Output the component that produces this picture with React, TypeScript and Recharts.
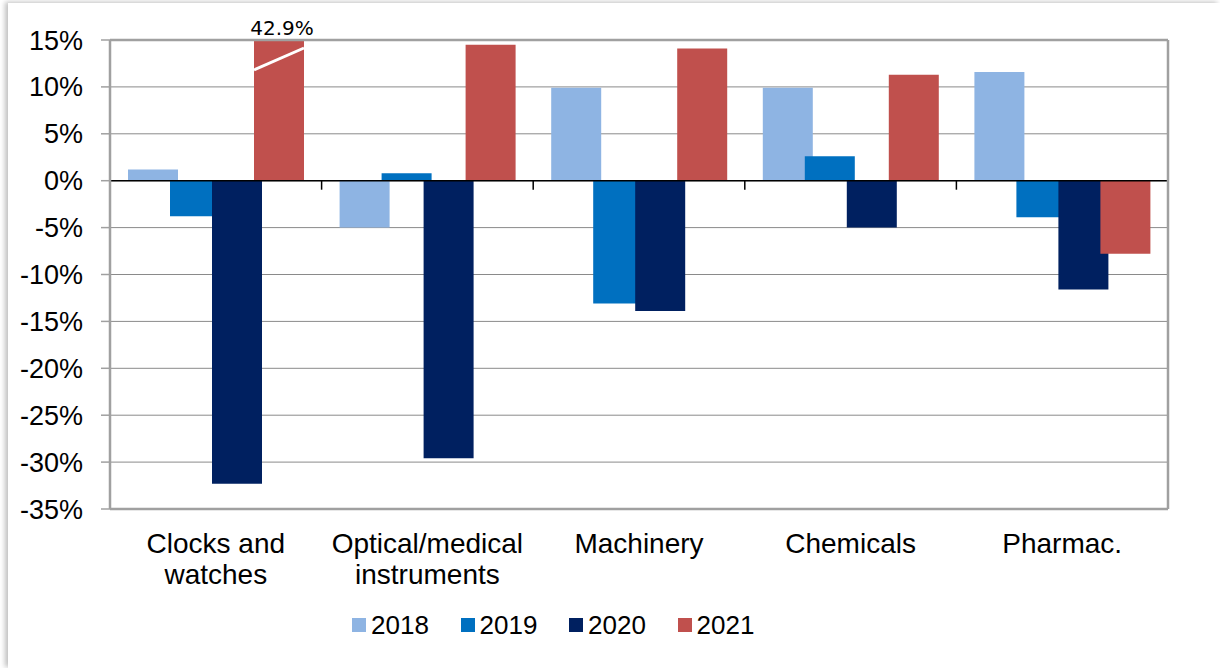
import React from 'react';
import { BarChart, Bar, XAxis, YAxis, CartesianGrid, ReferenceLine, Legend, LabelList } from 'recharts';

const categories = ['Clocks and\nwatches', 'Optical/medical\ninstruments', 'Machinery', 'Chemicals', 'Pharmac.'];
const v2018 = [1.2, -5.0, 9.9, 9.9, 11.6];
const v2019 = [-3.8, 0.8, -13.1, 2.6, -3.9];
const v2020 = [-32.3, -29.6, -13.9, -5.0, -11.6];
const v2021 = [42.9, 14.5, 14.1, 11.3, -7.8];
const years = ['2018', '2019', '2020', '2021'];
const colors = ['#8EB4E3', '#0070C0', '#002060', '#C0504D'];
const yTicks = [-35, -30, -25, -20, -15, -10, -5, 0, 5, 10, 15];
const yMin = yTicks[0];
const yMax = yTicks[yTicks.length - 1];

const data = categories.map((name, i) => ({
  name,
  y2018: v2018[i],
  y2019: v2019[i],
  y2020: v2020[i],
  y2021: v2021[i],
}));

const FONT = '"Liberation Sans", Arial, sans-serif';

const CatTick = (props: any) => {
  const { x, y, payload } = props;
  const lines = String(payload.value).split('\n');
  return (
    <text x={x} y={y} textAnchor="middle" fontSize={28} fill="#000" fontFamily={FONT}>
      {lines.map((l, i) => (
        <tspan key={i} x={x} dy={i === 0 ? 36 : 31}>{l}</tspan>
      ))}
    </text>
  );
};

const BreakLabel = (props: any) => {
  const { x, y, width, height } = props;
  const value = Number(props.value);
  if (!(value > yMax)) return null;
  const px = height / value;
  const zeroY = y + height;
  const top = zeroY - yMax * px;
  return (
    <g>
      <line x1={x} y1={top + 30} x2={x + width} y2={top + 8} stroke="#fff" strokeWidth={3} />
      <text x={x + width / 2 + 3} y={top - 5} textAnchor="middle" fontSize={20} fill="#000" fontFamily={'"DejaVu Sans", "Liberation Sans", sans-serif'}>
        {value.toFixed(1)}%
      </text>
    </g>
  );
};

const ZeroLine = (p: any) => {
  const { x1, x2, y1 } = p;
  const n = categories.length;
  const step = (x2 - x1) / n;
  const marks = [];
  for (let i = 0; i <= n; i++) {
    marks.push(<line key={i} x1={x1 + i * step} x2={x1 + i * step} y1={y1} y2={y1 + 9} stroke="#000" strokeWidth={1.5} />);
  }
  return (
    <g>
      <line x1={x1} x2={x2} y1={y1} y2={y1} stroke="#000" strokeWidth={1.5} />
      {marks}
    </g>
  );
};

const LegendContent = () => (
  <div style={{ display: 'flex', fontFamily: FONT, fontSize: 26, color: '#000', lineHeight: '30px' }}>
    {years.map((yr, i) => (
      <div key={yr} style={{ width: 108.5, display: 'flex', alignItems: 'center' }}>
        <span style={{ display: 'inline-block', width: 14, height: 14, background: colors[i], marginRight: 5 }} />
        <span>{yr}</span>
      </div>
    ))}
  </div>
);

export default function App() {
  return (
    <div style={{ position: 'fixed', left: 0, top: 0, width: 1220, height: 668, background: '#fff', overflow: 'hidden' }}>
      <div style={{ position: 'absolute', left: 8, top: 3, width: 1212, height: 665, background: '#fff', boxShadow: '-3px -1px 5px rgba(0,0,0,0.25)' }} />
      <div style={{ position: 'absolute', left: 0, top: 0 }}>
        <BarChart
          width={1220}
          height={668}
          data={data}
          margin={{ top: 40, right: 51, bottom: 69, left: 10 }}
          barSize={50}
          barGap={-8}
        >
          <CartesianGrid vertical={false} stroke="#8a8a8a" strokeWidth={1} />
          <XAxis dataKey="name" axisLine={false} tickLine={false} height={90} tick={<CatTick />} interval={0} />
          <YAxis
            width={100}
            domain={[yMin, yMax]}
            ticks={yTicks}
            allowDataOverflow
            interval={0}
            tickFormatter={(v: number) => `${v}%`}
            tick={{ fill: '#000', fontSize: 27, fontFamily: FONT }}
            tickSize={9}
            tickMargin={18}
            axisLine={{ stroke: '#a0a0a0', strokeWidth: 2.5 }}
            tickLine={{ stroke: '#a0a0a0', strokeWidth: 1.5 }}
          />
          <YAxis
            yAxisId="r"
            orientation="right"
            width={1}
            type="number"
            domain={[yMin, yMax]}
            tick={false}
            tickLine={false}
            axisLine={{ stroke: '#a0a0a0', strokeWidth: 2.5 }}
          />
          <Bar dataKey="y2018" name="2018" fill={colors[0]} isAnimationActive={false} />
          <Bar dataKey="y2019" name="2019" fill={colors[1]} isAnimationActive={false} />
          <Bar dataKey="y2020" name="2020" fill={colors[2]} isAnimationActive={false} />
          <Bar dataKey="y2021" name="2021" fill={colors[3]} isAnimationActive={false}>
            <LabelList dataKey="y2021" content={<BreakLabel />} />
          </Bar>
          <ReferenceLine y={yMax} stroke="#a0a0a0" strokeWidth={2.5} />
          <ReferenceLine y={yMin} stroke="#a0a0a0" strokeWidth={2.5} />
          <ReferenceLine y={0} shape={<ZeroLine />} />
          <Legend
            layout="horizontal"
            verticalAlign="middle"
            align="center"
            wrapperStyle={{ left: 352, top: 610, width: 440, height: 30 }}
            content={<LegendContent />}
          />
        </BarChart>
      </div>
    </div>
  );
}
